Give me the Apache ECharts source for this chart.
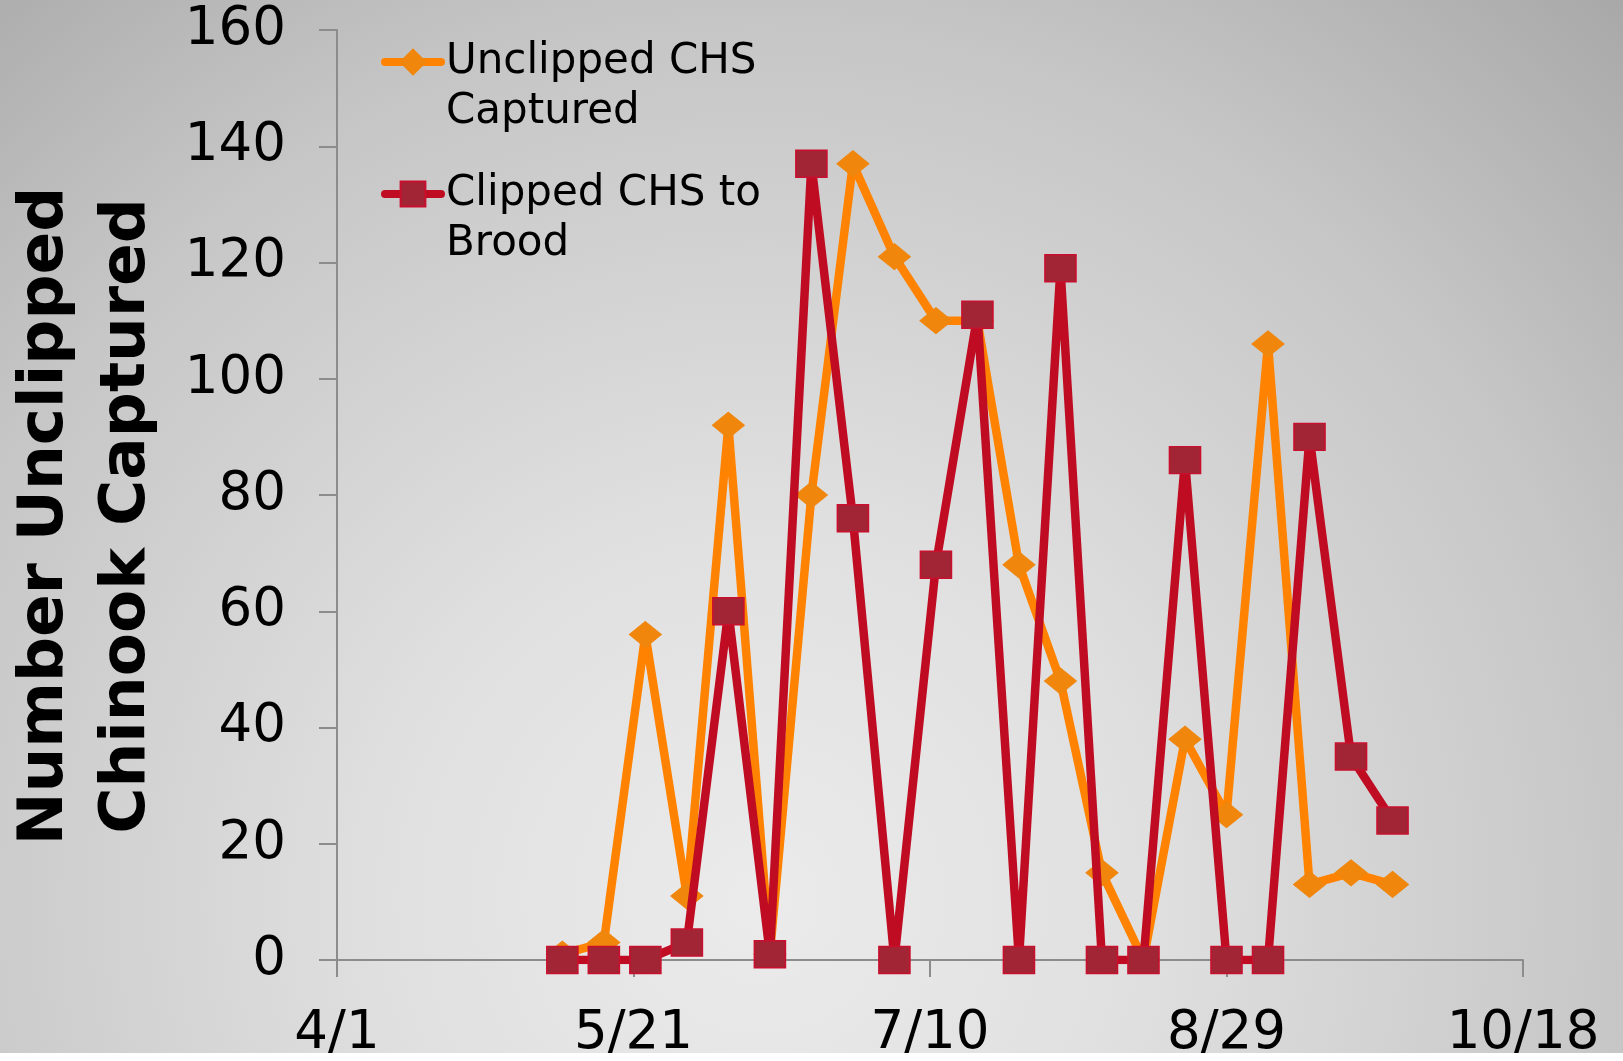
<!DOCTYPE html>
<html>
<head>
<meta charset="utf-8">
<script src="https://cdn.jsdelivr.net/npm/echarts@6/dist/echarts.min.js"></script>
<style>
html,body{margin:0;padding:0;background:#fff;}
#chart{width:1623px;height:1061px;}
</style>
</head>
<body>
<div id="chart"></div>
<script>
// ---- data ----
const dates = ['5/9','5/16','5/23','5/30','6/6','6/13','6/20','6/27','7/4','7/11','7/18',
               '7/25','8/1','8/8','8/15','8/22','8/29','9/5','9/12','9/19','9/26'];
const unclipped = [1, 3, 56, 11, 92, 1, 80, 137, 121, 110, 110, 68, 48, 15, 0, 38, 25, 106, 13, 15, 13];
const clipped   = [0, 0, 0, 3, 60, 1, 137, 76, 0, 68, 111, 0, 119, 0, 0, 86, 0, 0, 90, 35, 24];
const xTickLabels = ['4/1', '5/21', '7/10', '8/29', '10/18'];
const seriesNames = ['Unclipped CHS Captured', 'Clipped CHS to Brood'];
const legendLabels = ['Unclipped CHS\nCaptured', 'Clipped CHS to\nBrood'];
const yTitle = 'Number Unclipped\nChinook Captured';

// ---- helpers ----
const YEAR = 2011;
const ORIGIN = Date.UTC(YEAR, 3, 1);
function dayOffset(md) {
  const p = md.split('/');
  return Math.round((Date.UTC(YEAR, +p[0] - 1, +p[1]) - ORIGIN) / 86400000);
}
function fmtDay(v) {
  const d = new Date(ORIGIN + v * 86400000);
  return (d.getUTCMonth() + 1) + '/' + d.getUTCDate();
}
const xMin = dayOffset(xTickLabels[0]);
const xMax = dayOffset(xTickLabels[xTickLabels.length - 1]);
const xStep = dayOffset(xTickLabels[1]) - xMin;

const FONT = '"DejaVu Sans", Verdana, sans-serif';
const axisColor = '#8c8c8c';

const chart = echarts.init(document.getElementById('chart'), null, {renderer: 'canvas'});

const legendCommon = {
  orient: 'vertical',
  left: 381,
  padding: 0,
  itemWidth: 56,
  itemHeight: 31,
  textStyle: {fontFamily: FONT, fontSize: 42, color: '#000', lineHeight: 50},
  lineStyle: {width: 8, cap: 'round'},
  // a leading blank line keeps the icon level with the first text line
  formatter: function (name) { return ' \n' + legendLabels[seriesNames.indexOf(name)]; }
};

chart.setOption({
  backgroundColor: '#ffffff',
  animation: false,
  graphic: [
    {
      type: 'rect', z: -100, silent: true,
      shape: {x: 0, y: 0, width: 1623, height: 1053},
      style: {
        fill: new echarts.graphic.RadialGradient(760, 900, 1250, [
          {offset: 0, color: '#ebebeb'},
          {offset: 0.3, color: '#e0e0e0'},
          {offset: 0.7, color: '#c6c6c6'},
          {offset: 1, color: '#a8a8a8'}
        ], true)
      }
    },
    {
      type: 'text', z: 10, silent: true,
      x: 87, y: 516, rotation: Math.PI / 2,
      style: {
        text: yTitle,
        font: 'bold 63px "DejaVu Sans", Verdana, sans-serif',
        fill: '#000',
        align: 'center', verticalAlign: 'middle',
        textAlign: 'center', textVerticalAlign: 'middle',
        lineHeight: 82
      }
    }
  ],
  grid: {left: 337, right: 100, top: 30, bottom: 99, containLabel: false},
  legend: [
    Object.assign({}, legendCommon, {data: [seriesNames[0]], top: 62 - 75}),
    Object.assign({}, legendCommon, {data: [seriesNames[1]], top: 194 - 75})
  ],
  xAxis: {
    type: 'value', min: xMin, max: xMax, interval: xStep,
    axisLine: {show: true, lineStyle: {color: axisColor, width: 2}},
    axisTick: {show: true, length: 17, lineStyle: {color: axisColor, width: 2}},
    splitLine: {show: false},
    axisLabel: {fontFamily: FONT, fontSize: 53, color: '#000', margin: 48, formatter: fmtDay}
  },
  yAxis: {
    type: 'value', min: 0, max: 160, interval: 20,
    axisLine: {show: true, lineStyle: {color: axisColor, width: 2}},
    axisTick: {show: true, length: 18, lineStyle: {color: axisColor, width: 2}},
    splitLine: {show: false},
    axisLabel: {fontFamily: FONT, fontSize: 53, color: '#000', margin: 51}
  },
  series: [
    {
      name: seriesNames[0], type: 'line',
      data: dates.map((d, i) => [dayOffset(d), unclipped[i]]),
      symbol: 'diamond', symbolSize: [32, 26],
      lineStyle: {color: '#ff8300', width: 8.5},
      itemStyle: {color: '#f0860c', borderColor: '#f0860c', borderWidth: 1},
      z: 2
    },
    {
      name: seriesNames[1], type: 'line',
      data: dates.map((d, i) => [dayOffset(d), clipped[i]]),
      symbol: 'rect', symbolSize: [31, 27],
      lineStyle: {color: '#c00c22', width: 8.5},
      itemStyle: {color: '#a22536', borderColor: '#c8102e', borderWidth: 1.5},
      z: 3
    }
  ]
});
</script>
</body>
</html>
